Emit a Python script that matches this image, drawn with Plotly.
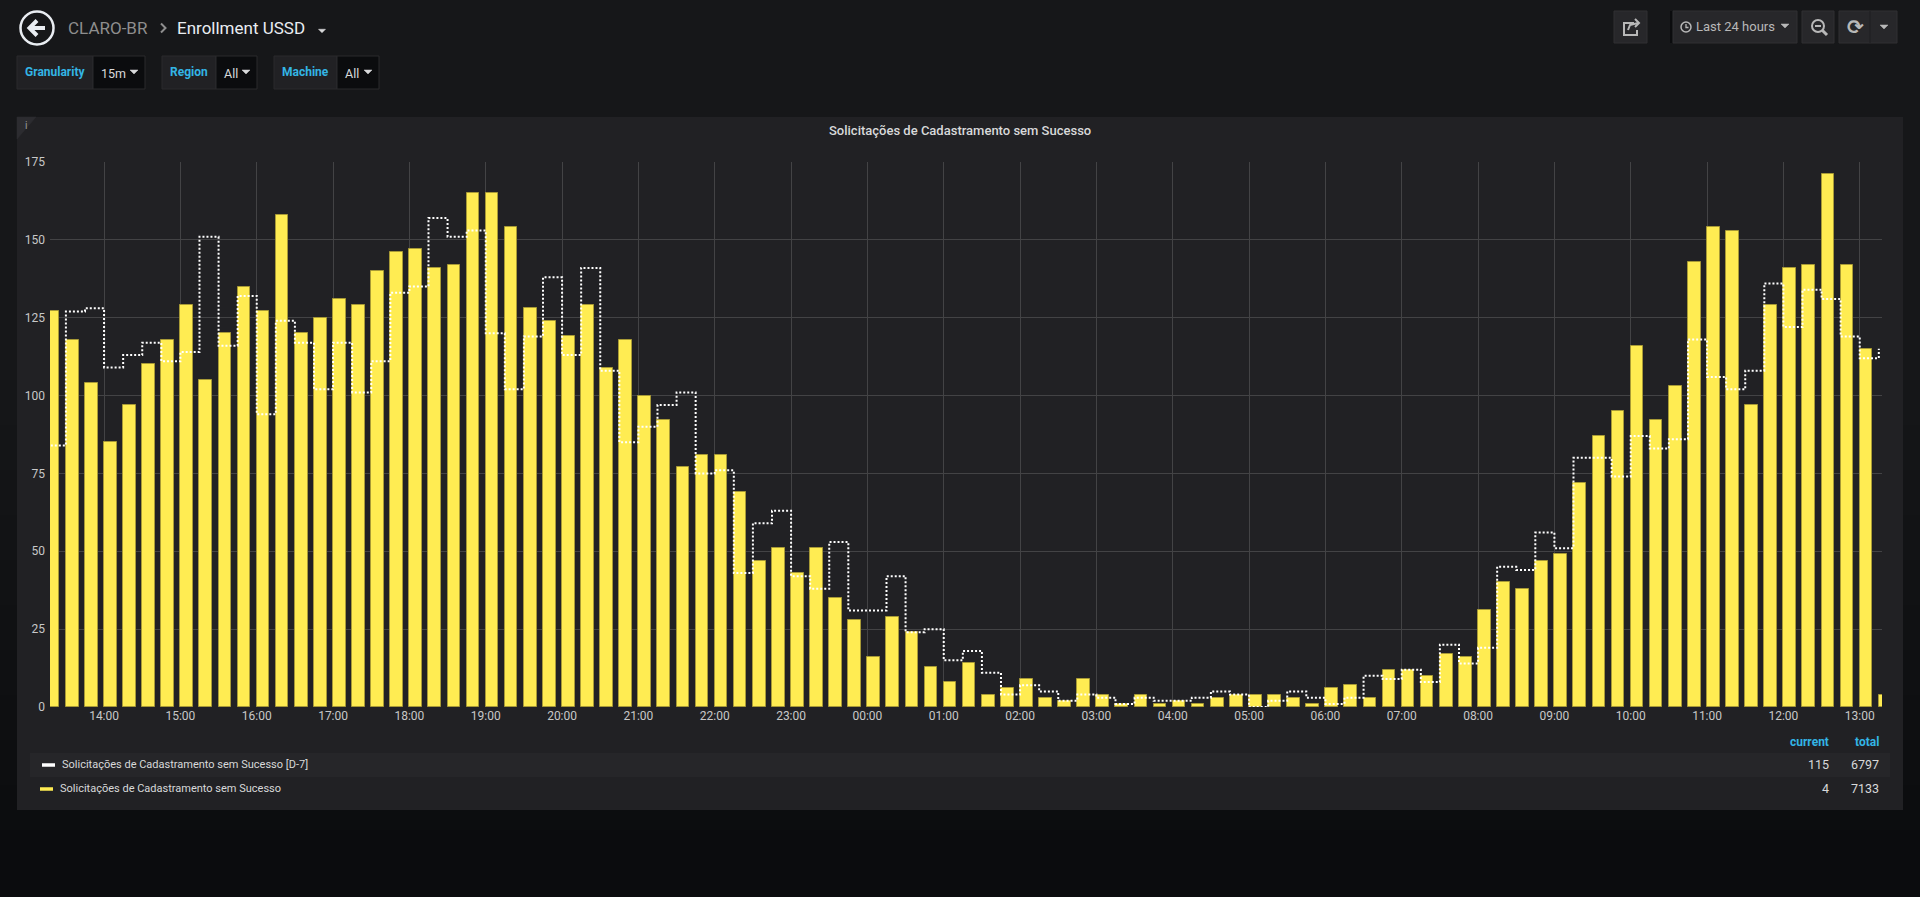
import pandas as pd
import plotly.graph_objects as go

# 15-minute buckets, first bucket 13:15, last bucket 13:15 next day
start = "2019-03-14 13:15"
step = "15min"
view_from = "2019-03-14 13:17:30"
view_hours = 24

current = [127, 118, 104, 85, 97, 110, 118,
           129, 105, 120, 135,
           127, 158, 120, 125,
           131, 129, 140, 146,
           147, 141, 142, 165,
           165, 154, 128, 124,
           119, 129, 109, 118,
           100, 92, 77, 81,
           81, 69, 47, 51,
           43, 51, 35, 28,
           16, 29, 24, 13,
           8, 14, 4, 6,
           9, 3, 2, 9,
           4, 1, 4, 1,
           2, 1, 3, 4,
           4, 4, 3, 1,
           6, 7, 3, 12,
           12, 10, 17, 16,
           31, 40, 38, 47,
           49, 72, 87, 95,
           116, 92, 103, 143,
           154, 153, 97, 129,
           141, 142, 171, 142,
           115, 4]

d7 = [84, 127, 128, 109, 113, 117, 111,
      114, 151, 116, 132,
      94, 124, 117, 102,
      117, 101, 111, 133,
      135, 157, 151, 153,
      120, 102, 119, 138,
      113, 141, 108, 85,
      90, 97, 101, 75,
      76, 43, 59, 63,
      42, 38, 53, 31,
      31, 42, 24, 25,
      15, 18, 11, 4,
      7, 5, 2, 4,
      3, 1, 3, 2,
      2, 3, 5, 4,
      0, 2, 5, 3,
      1, 3, 10, 9,
      12, 8, 20, 14,
      19, 45, 44, 56,
      51, 80, 80, 74,
      87, 83, 86, 118,
      106, 102, 108, 136,
      122, 134, 131, 119,
      112, 115]

name_cur = "Solicitações de Cadastramento sem Sucesso"
name_d7 = "Solicitações de Cadastramento sem Sucesso [D-7]"
y_ticks = [0, 25, 50, 75, 100, 125, 150, 175]

times = pd.date_range(start, periods=len(current), freq=step)
x0 = pd.Timestamp(view_from)
x1 = x0 + pd.Timedelta(hours=view_hours)

FONT = "Roboto, 'Helvetica Neue', Arial, sans-serif"
YELLOW = "#ffec52"
BLUE = "#33b5e5"
TEXT = "#d8d9da"

W, H = 1920, 897
L, R, T, B = 50, 1882, 162, 707


def px(x):
    return (x - L) / (R - L)


def py(y):
    return (B - y) / (B - T)


def path(points, close=False):
    s = "M " + " L ".join(f"{px(a):.5f},{py(b):.5f}" for a, b in points)
    return s + (" Z" if close else "")


fig = go.Figure()

fig.add_trace(go.Bar(
    x=times, y=current, name=name_cur,
    offset=0, width=0.66 * 15 * 60 * 1000,
    marker=dict(color=YELLOW, line=dict(color="#a89a36", width=1)),
))
fig.add_trace(go.Scatter(
    x=times, y=d7, name=name_d7, mode="lines",
    line=dict(color="#ffffff", width=2, dash="2px,2px", shape="hv"),
))

shapes = []
ann = []


def rect(x_a, y_a, x_b, y_b, fill, line=None, lw=1):
    shapes.append(dict(type="rect", xref="paper", yref="paper",
                       x0=px(x_a), x1=px(x_b), y0=py(y_b), y1=py(y_a),
                       fillcolor=fill, layer="below",
                       line=dict(color=line or fill, width=lw if line else 0)))


def stroke(points, color, width, close=False, fill=None):
    shapes.append(dict(type="path", xref="paper", yref="paper",
                       path=path(points, close), layer="above",
                       fillcolor=fill, line=dict(color=color, width=width)))


def caret(cx, cy, color="#d8d9da", w=8, h=4):
    stroke([(cx - w / 2, cy - h / 2), (cx + w / 2, cy - h / 2), (cx, cy + h / 2)],
           color, 0.5, close=True, fill=color)


def text(x, y, s, size=12, color=TEXT, anchor="left", weight="normal", family=FONT):
    ann.append(dict(xref="paper", yref="paper", x=px(x), y=py(y), text=s,
                    showarrow=False, xanchor=anchor, yanchor="middle", borderpad=0,
                    font=dict(family=family, size=size, color=color, weight=weight)))


# page background darkens towards the bottom
bands = ["#151618", "#141517", "#131416", "#121315", "#111214", "#101113",
         "#0f1012", "#0e0f11", "#0d0e10", "#0c0d0f", "#0b0c0e"]
for i, c in enumerate(bands):
    rect(0, 380 + i * 45, W, H if i == len(bands) - 1 else 380 + (i + 1) * 45, c)

# panel
rect(17, 117, 1903, 810, "#212124")
stroke([(17, 117), (36, 117), (17, 139)], "#2c2c30", 0.5, close=True, fill="#2c2c30")
text(24, 125, "i", size=10, color="#9a9a9a")
text(960, 131, name_cur, size=13, color=TEXT, anchor="center", weight=500)

# header: back button and breadcrumb
shapes.append(dict(type="circle", xref="paper", yref="paper",
                   x0=px(20.5), x1=px(53.5), y0=py(44.5), y1=py(11.5),
                   line=dict(color="#e9edf2", width=2.5)))
stroke([(45, 28), (30, 28)], "#e9edf2", 4)
stroke([(37, 20.5), (29.5, 28), (37, 35.5)], "#e9edf2", 4)
text(67, 28, "CLARO-BR", size=17, color="#8e8e8e")
stroke([(161, 23.5), (165.5, 28), (161, 32.5)], "#8e8e8e", 2)
text(176, 28, "Enrollment USSD", size=17, color="#e9edf2")
caret(322, 31, "#d8d9da", 7, 3.5)

# template variables
for lx, sx, rx, label, value in [(17, 93, 145, "Granularity", "15m"),
                                 (162, 216, 257, "Region", "All"),
                                 (274, 337, 379, "Machine", "All")]:
    rect(lx, 56, sx, 89, "#212124", "#2a2a2d")
    rect(sx, 56, rx, 89, "#0b0c0e", "#2a2a2d")
    text((lx + sx) / 2, 72, label, size=12, color=BLUE, anchor="center", weight="bold")
    text(sx + 7, 73, value, size=12.5, color=TEXT)
    caret(rx - 11, 72)

# top-right toolbar
rect(1614, 11, 1647, 43, "#27272a", "#303033")
stroke([(1634, 23), (1624, 23), (1624, 35), (1637, 35), (1637, 30)], "#b8b8b8", 2)
stroke([(1628, 30), (1630, 25), (1638, 23)], "#b8b8b8", 2)
stroke([(1635, 19), (1639, 23), (1635, 27)], "#b8b8b8", 2)
rect(1670, 11, 1673, 43, "#0b0c0e")
rect(1673, 11, 1797, 43, "#27272a", "#303033")
shapes.append(dict(type="circle", xref="paper", yref="paper",
                   x0=px(1681), x1=px(1691), y0=py(32), y1=py(22),
                   line=dict(color="#b8b8b8", width=1.5)))
stroke([(1686, 24), (1686, 27.5), (1688.5, 27.5)], "#b8b8b8", 1.3)
text(1695, 27, "Last 24 hours", size=13, color="#b8b8b8")
caret(1785, 26, "#b8b8b8")
rect(1802, 11, 1834, 43, "#27272a", "#303033")
shapes.append(dict(type="circle", xref="paper", yref="paper",
                   x0=px(1812), x1=px(1824), y0=py(32), y1=py(20),
                   line=dict(color="#b8b8b8", width=2)))
stroke([(1815, 26), (1821, 26)], "#b8b8b8", 2)
stroke([(1822.5, 30.5), (1827, 35)], "#b8b8b8", 3)
rect(1839, 11, 1897, 43, "#27272a", "#303033")
shapes.append(dict(type="line", xref="paper", yref="paper",
                   x0=px(1870), x1=px(1870), y0=py(43), y1=py(11),
                   line=dict(color="#1f1f21", width=1)))
text(1855, 27, "⟳", size=20, color="#b8b8b8", anchor="center", weight="bold",
     family="DejaVu Sans")
caret(1884, 27, "#b8b8b8")

# legend (table mode with current / total)
rect(30, 753, 1890, 777, "#262629")
stroke([(42, 765), (55, 765)], "#ffffff", 3.5)
stroke([(40, 789), (53, 789)], YELLOW, 3.5)
text(61, 764.5, name_d7, size=11, color=TEXT)
text(59, 788.5, name_cur, size=11, color=TEXT)
text(1830, 742, "current", size=12, color=BLUE, anchor="right", weight="bold")
text(1880, 742, "total", size=12, color=BLUE, anchor="right", weight="bold")
for yy, series in [(764.5, d7), (788.5, current)]:
    text(1830, yy, str(series[-1]), size=12.5, color=TEXT, anchor="right")
    text(1880, yy, str(sum(series)), size=12.5, color=TEXT, anchor="right")

fig.update_layout(
    width=W, height=H,
    margin=dict(l=L, r=W - R, t=T, b=H - B, pad=0),
    paper_bgcolor="#161719",
    plot_bgcolor="rgba(0,0,0,0)",
    font=dict(family=FONT, color="#c8c8c8", size=12),
    showlegend=False,
    bargap=0,
    shapes=shapes,
    annotations=ann,
    xaxis=dict(type="date", range=[x0, x1], dtick=3600000, tickformat="%H:%M",
               showgrid=True, gridcolor="#434345", gridwidth=1,
               tickfont=dict(size=12, color="#c8c8c8"),
               showline=False, zeroline=False, ticks=""),
    yaxis=dict(range=[0, 175], tickvals=y_ticks, showgrid=True,
               gridcolor="#434345", gridwidth=1, zeroline=False,
               tickfont=dict(size=12, color="#c8c8c8"), ticks="",
               ticklabelstandoff=4, showline=False),
)

fig.write_html("out.html", config={"displayModeBar": False},
               post_script="document.body.style.margin='0';document.body.style.overflow='hidden';")
